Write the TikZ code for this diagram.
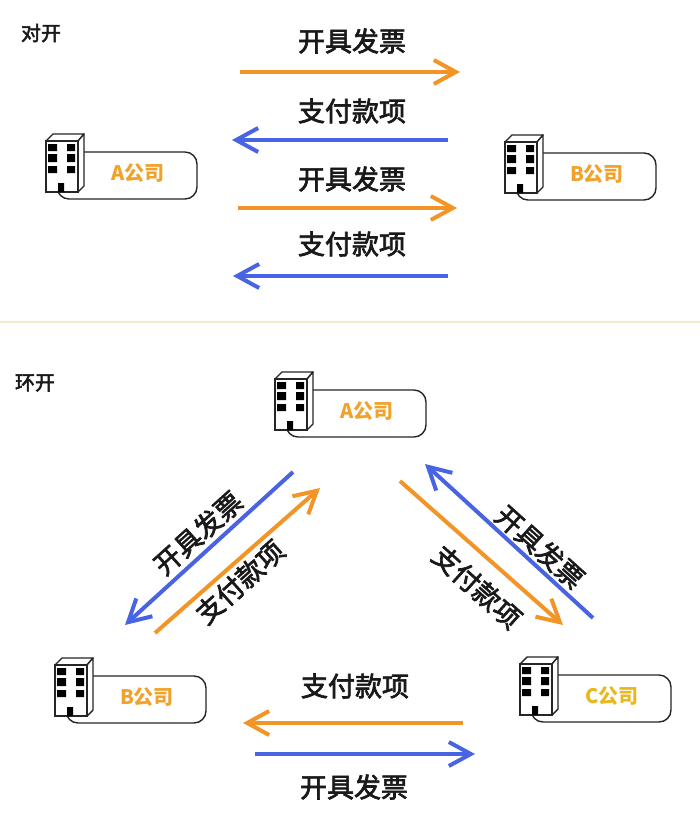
\documentclass[tikz,border=0pt]{standalone}
\usepackage{fontspec}
\setmainfont{Noto Sans CJK SC}
\newfontfamily\cjk{Noto Sans CJK SC}
\newfontfamily\cjkm[FakeBold=2.5]{Noto Sans CJK SC}
\usetikzlibrary{arrows.meta}
\definecolor{arrOrange}{RGB}{242,148,38}
\definecolor{arrBlue}{RGB}{72,100,226}
\definecolor{compOrange}{RGB}{240,162,42}
\definecolor{compYellow}{RGB}{232,184,30}
\definecolor{divider}{RGB}{242,236,200}
\definecolor{textBlack}{RGB}{25,25,25}
\tikzset{
  flow/.style={line width=4pt, -{Straight Barb[length=22pt,width=24pt,line width=4pt]}},
  orangeflow/.style={flow, draw=arrOrange},
  blueflow/.style={flow, draw=arrBlue},
  flowlabel/.style={text=textBlack, font=\cjkm\fontsize{27}{30}\selectfont, inner sep=0pt},
  titlelabel/.style={text=textBlack, font=\cjkm\fontsize{20}{24}\selectfont, inner sep=0pt},
  boxline/.style={draw=black!85, line width=1.4pt},
  complabel/.style={font=\cjk\bfseries\fontsize{20}{22}\selectfont, inner sep=0pt},
}
\newcommand\mycompany[5]{% name, x, y, label, colour
  \begin{scope}[shift={(#2,#3)}]
    \draw[boxline, rounded corners=12] (11,18) rectangle (151,65);
    \draw[boxline, fill=white, line join=round] (0,7) -- (7,0) -- (38,0) -- (32,7) -- cycle;
    \draw[boxline, fill=white, line join=round] (32,7) -- (38,0) -- (38,52) -- (32,58) -- cycle;
    \draw[boxline, fill=white] (0,7) rectangle (32,58);
    \fill[black] (2,10) rectangle (11,17) (21,10) rectangle (29,17)
                 (2,20) rectangle (11,28) (21,20) rectangle (29,28)
                 (2,32) rectangle (11,39) (21,32) rectangle (29,39)
                 (12,49) rectangle (18,58);
    \node[complabel, text=#5] (#1) at (92,39) {#4};
  \end{scope}}
\begin{document}
\begin{tikzpicture}[x=1pt,y=-1pt]
\useasboundingbox (0,0) rectangle (700,830);
\fill[white] (0,0) rectangle (700,830);

% ---------- top section ----------
\node[titlelabel] (t1) at (41,33) {对开};
\mycompany{tA}{46}{134}{A公司}{compOrange}
\mycompany{tB}{505}{135}{B公司}{compOrange}

\coordinate (a1s) at (240,72);  \coordinate (a1e) at (460,72);
\coordinate (a2s) at (448,140); \coordinate (a2e) at (232,140);
\coordinate (a3s) at (238,208); \coordinate (a3e) at (457,208);
\coordinate (a4s) at (448,276); \coordinate (a4e) at (233,276);
\draw[orangeflow] (a1s) -- (a1e);
\draw[blueflow] (a2s) -- (a2e);
\draw[orangeflow] (a3s) -- (a3e);
\draw[blueflow] (a4s) -- (a4e);
\node[flowlabel] (l1) at (352,41) {开具发票};
\node[flowlabel] (l2) at (352,111) {支付款项};
\node[flowlabel] (l3) at (352,179) {开具发票};
\node[flowlabel] (l4) at (352,244) {支付款项};

% divider
\coordinate (dl) at (0,322); \coordinate (dr) at (700,322);
\draw[divider, line width=2pt] (dl) -- (dr);

% ---------- bottom section ----------
\node[titlelabel] (t2) at (35,383) {环开};
\mycompany{bA}{275}{372}{A公司}{compOrange}
\mycompany{bB}{55}{658}{B公司}{compOrange}
\mycompany{bC}{520}{657}{C公司}{compYellow}

% left pair (A - B)
\coordinate (b1s) at (293,472); \coordinate (b1e) at (125,625);
\coordinate (b2s) at (155,633); \coordinate (b2e) at (320,488);
\draw[blueflow] (b1s) -- (b1e);
\draw[orangeflow] (b2s) -- (b2e);
\node[flowlabel, rotate=42] (m1) at (198,533) {开具发票};
\node[flowlabel, rotate=42] (m2) at (240,582) {支付款项};

% right pair (A - C)
\coordinate (c1s) at (593,618); \coordinate (c1e) at (425,464);
\coordinate (c2s) at (400,481); \coordinate (c2e) at (563,625);
\draw[blueflow] (c1s) -- (c1e);
\draw[orangeflow] (c2s) -- (c2e);
\node[flowlabel, rotate=-42] (n1) at (540,547) {开具发票};
\node[flowlabel, rotate=-42] (n2) at (477,587) {支付款项};

% bottom pair (B - C)
\coordinate (d1s) at (463,723); \coordinate (d1e) at (243,723);
\coordinate (d2s) at (255,754); \coordinate (d2e) at (475,754);
\draw[orangeflow] (d1s) -- (d1e);
\draw[blueflow] (d2s) -- (d2e);
\node[flowlabel] (o1) at (355,686) {支付款项};
\node[flowlabel] (o2) at (354,787) {开具发票};
\end{tikzpicture}
\end{document}
